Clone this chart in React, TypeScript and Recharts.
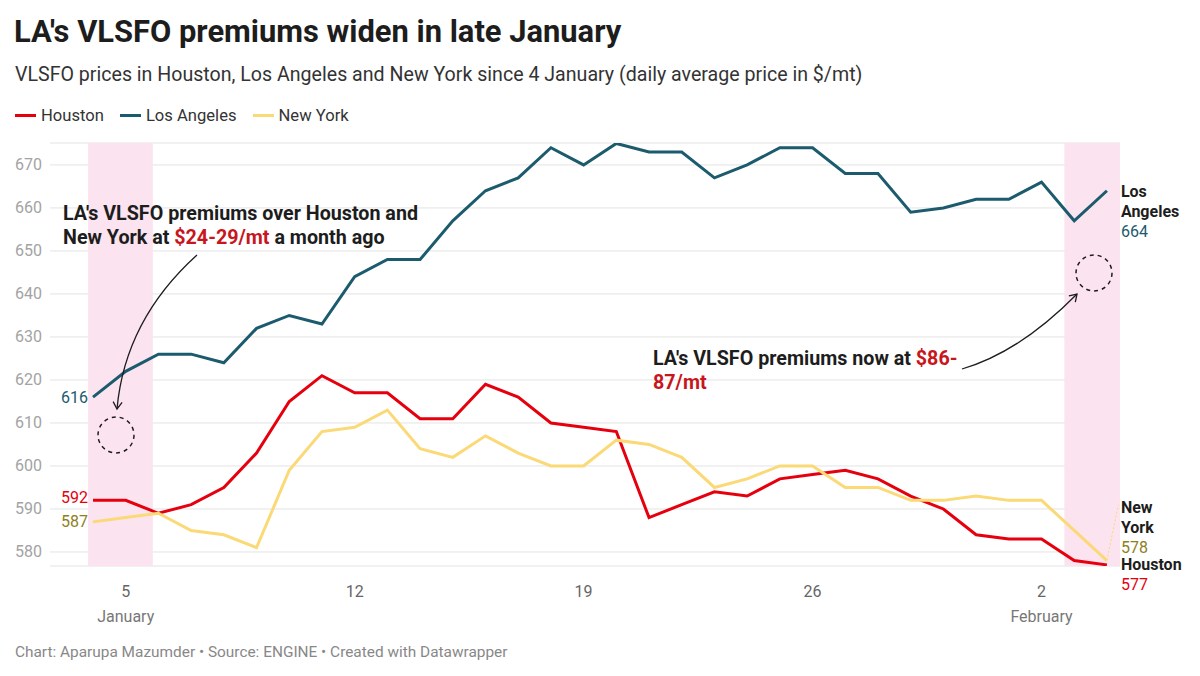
import React from 'react';
import { LineChart, Line, XAxis, YAxis, CartesianGrid, ReferenceArea, ReferenceLine } from 'recharts';

// daily average VLSFO price, $/mt, 4 Jan - 4 Feb
const dates = [
  'Jan 4', 'Jan 5', 'Jan 6', 'Jan 7', 'Jan 8', 'Jan 9', 'Jan 10', 'Jan 11',
  'Jan 12', 'Jan 13', 'Jan 14', 'Jan 15', 'Jan 16', 'Jan 17', 'Jan 18', 'Jan 19',
  'Jan 20', 'Jan 21', 'Jan 22', 'Jan 23', 'Jan 24', 'Jan 25', 'Jan 26', 'Jan 27',
  'Jan 28', 'Jan 29', 'Jan 30', 'Jan 31', 'Feb 1', 'Feb 2', 'Feb 3', 'Feb 4',
];
const houston = [
  592, 592, 589, 591, 595, 603, 615, 621, 617, 617, 611, 611, 619, 616, 610, 609,
  608, 588, 591, 594, 593, 597, 598, 599, 597, 593, 590, 584, 583, 583, 578, 577,
];
const losAngeles = [
  616, 622, 626, 626, 624, 632, 635, 633, 644, 648, 648, 657, 664, 667, 674, 670,
  675, 673, 673, 667, 670, 674, 674, 668, 668, 659, 660, 662, 662, 666, 657, 664,
];
const newYork = [
  587, 588, 589, 585, 584, 581, 599, 608, 609, 613, 604, 602, 607, 603, 600, 600,
  606, 605, 602, 595, 597, 600, 600, 595, 595, 592, 592, 593, 592, 592, 585, 578,
];

const xTicks = [1, 8, 15, 22, 29];
const xTickDays = ['5', '12', '19', '26', '2'];
const xTickMonths = ['January', '', '', '', 'February'];
const yTicks = [580, 590, 600, 610, 620, 630, 640, 650, 660, 670];

// highlighted ranges (in day index)
const highlights = [
  [-0.15, 1.83],
  [29.7, 31.4],
];

const RED = '#e6000e';
const TEAL = '#1b5b6d';
const YELLOW = '#fbd977';
const OLIVE = '#8e7f1d';
const ANNO_RED = '#c8161d';

const data = dates.map((d, i) => ({
  i,
  date: d,
  houston: houston[i],
  losAngeles: losAngeles[i],
  newYork: newYork[i],
}));

const series = [
  { key: 'houston', name: 'Houston', color: RED, textColor: RED, endLines: ['Houston'], endDy: 0, startDy: -3 },
  { key: 'losAngeles', name: 'Los Angeles', color: TEAL, textColor: TEAL, endLines: ['Los', 'Angeles'], endDy: 1, startDy: 0 },
  { key: 'newYork', name: 'New York', color: YELLOW, textColor: OLIVE, endLines: ['New', 'York'], endDy: -53, startDy: 0 },
];

const last = dates.length - 1;

const makeLabel = (s: any) => (p: any) => {
  if (p.index === 0) {
    return (
      <text x={p.x - 5} y={p.y + s.startDy} dy={5.5} textAnchor="end" fontSize={16} fill={s.textColor}>
        {p.value}
      </text>
    );
  }
  if (p.index === last) {
    const y0 = p.y + s.endDy;
    return (
      <g>
        {s.endLines.map((t: string, k: number) => (
          <text key={k} x={p.x + 14} y={y0 + k * 20} dy={5.5} fontSize={16} fontWeight={700} fill="#1d1d1d">
            {t}
          </text>
        ))}
        <text x={p.x + 14} y={y0 + s.endLines.length * 20} dy={5.5} fontSize={16} fill={s.textColor}>
          {p.value}
        </text>
      </g>
    );
  }
  return <g />;
};

const YTick = (p: any) => (
  <text x={15} y={p.y} dy={5.5} textAnchor="start" fontSize={16} fill="#a3a3a3">
    {p.payload.value}
  </text>
);

const XTick = (p: any) => {
  const k = xTicks.indexOf(p.payload.value);
  return (
    <g>
      <text x={p.x} y={p.y} dy={23} textAnchor="middle" fontSize={16} fill="#666">
        {xTickDays[k]}
      </text>
      {xTickMonths[k] && (
        <text x={p.x} y={p.y} dy={48} textAnchor="middle" fontSize={16} fill="#777">
          {xTickMonths[k]}
        </text>
      )}
    </g>
  );
};

export default function App() {
  return (
    <div
      style={{
        position: 'absolute',
        left: 0,
        top: 0,
        width: 1200,
        height: 676,
        background: '#fff',
        fontFamily: 'Roboto, sans-serif',
        overflow: 'hidden',
      }}
    >
      <div style={{ position: 'absolute', left: 14, top: 14, fontSize: 30.9, lineHeight: '36px', fontWeight: 700, color: '#1d1d1d', whiteSpace: 'nowrap' }}>
        LA's VLSFO premiums widen in late January
      </div>
      <div style={{ position: 'absolute', left: 15, top: 63, fontSize: 19.6, lineHeight: '24px', color: '#333', whiteSpace: 'nowrap' }}>
        VLSFO prices in Houston, Los Angeles and New York since 4 January (daily average price in $/mt)
      </div>
      <div style={{ position: 'absolute', left: 15, top: 105, height: 20, display: 'flex', alignItems: 'center', fontSize: 16.6, color: '#333' }}>
        {series.map((s) => (
          <div key={s.key} style={{ display: 'flex', alignItems: 'center', marginRight: 16 }}>
            <span style={{ display: 'inline-block', width: 21, height: 3, background: s.color, marginRight: 5 }} />
            <span>{s.name}</span>
          </div>
        ))}
      </div>

      <div style={{ position: 'absolute', left: 0, top: 0 }}>
        <LineChart width={1200} height={676} data={data} margin={{ top: 143, right: 80, bottom: 70, left: 0 }}>
          {highlights.map((h, k) => (
            <ReferenceArea key={k} x1={h[0]} x2={h[1]} fill="#fce3f0" fillOpacity={1} stroke="none" ifOverflow="visible" />
          ))}
          <CartesianGrid vertical={false} stroke="#e3e3e3" />
          <XAxis
            dataKey="i"
            type="number"
            domain={[-1.315, 31.4]}
            ticks={xTicks}
            axisLine={false}
            tickLine={false}
            height={40}
            tick={XTick}
            allowDataOverflow
          />
          <YAxis
            type="number"
            domain={[576.74, 675.1]}
            ticks={yTicks}
            axisLine={false}
            tickLine={false}
            width={50}
            tick={YTick}
            allowDataOverflow
          />
          <ReferenceLine
            segment={[{ x: last, y: newYork[last] }, { x: last + 0.35, y: 591 }]}
            stroke={YELLOW}
            strokeDasharray="2 2"
            strokeWidth={1}
            ifOverflow="visible"
          />
          {series.map((s) => (
            <Line
              key={s.key}
              dataKey={s.key}
              name={s.name}
              type="linear"
              stroke={s.color}
              strokeWidth={3}
              dot={false}
              activeDot={false}
              isAnimationActive={false}
              label={makeLabel(s)}
            />
          ))}
        </LineChart>
      </div>

      <svg width={1200} height={676} style={{ position: 'absolute', left: 0, top: 0, pointerEvents: 'none' }}>
        <defs>
          <marker id="ah" markerWidth={12} markerHeight={12} refX={9} refY={6} orient="auto" markerUnits="userSpaceOnUse">
            <path d="M2,1.5 L9,6 L2,10.5" fill="none" stroke="#1d1d1d" strokeWidth={1.3} />
          </marker>
        </defs>
        <path d="M197,255 Q125,320 117,409" fill="none" stroke="#1d1d1d" strokeWidth={1.3} markerEnd="url(#ah)" />
        <circle cx={116} cy={435} r={18} fill="none" stroke="#1d1d1d" strokeWidth={1.5} strokeDasharray="4 4" />
        <path d="M962,369 Q1020,352 1077,294" fill="none" stroke="#1d1d1d" strokeWidth={1.3} markerEnd="url(#ah)" />
        <circle cx={1094} cy={273} r={18} fill="none" stroke="#1d1d1d" strokeWidth={1.5} strokeDasharray="4 4" />
      </svg>

      <div style={{ position: 'absolute', left: 63, top: 202, fontSize: 19.7, lineHeight: '24px', fontWeight: 700, color: '#1d1d1d', whiteSpace: 'nowrap' }}>
        LA's VLSFO premiums over Houston and
        <br />
        New York at <span style={{ color: ANNO_RED }}>$24-29/mt</span> a month ago
      </div>
      <div style={{ position: 'absolute', left: 653, top: 347, fontSize: 19.7, lineHeight: '24px', fontWeight: 700, color: '#1d1d1d', whiteSpace: 'nowrap' }}>
        LA's VLSFO premiums now at <span style={{ color: ANNO_RED }}>$86-</span>
        <br />
        <span style={{ color: ANNO_RED }}>87/mt</span>
      </div>

      <div style={{ position: 'absolute', left: 15, top: 643, fontSize: 15.4, lineHeight: '18px', color: '#888', whiteSpace: 'nowrap' }}>
        Chart: Aparupa Mazumder • Source: ENGINE • Created with Datawrapper
      </div>
    </div>
  );
}
